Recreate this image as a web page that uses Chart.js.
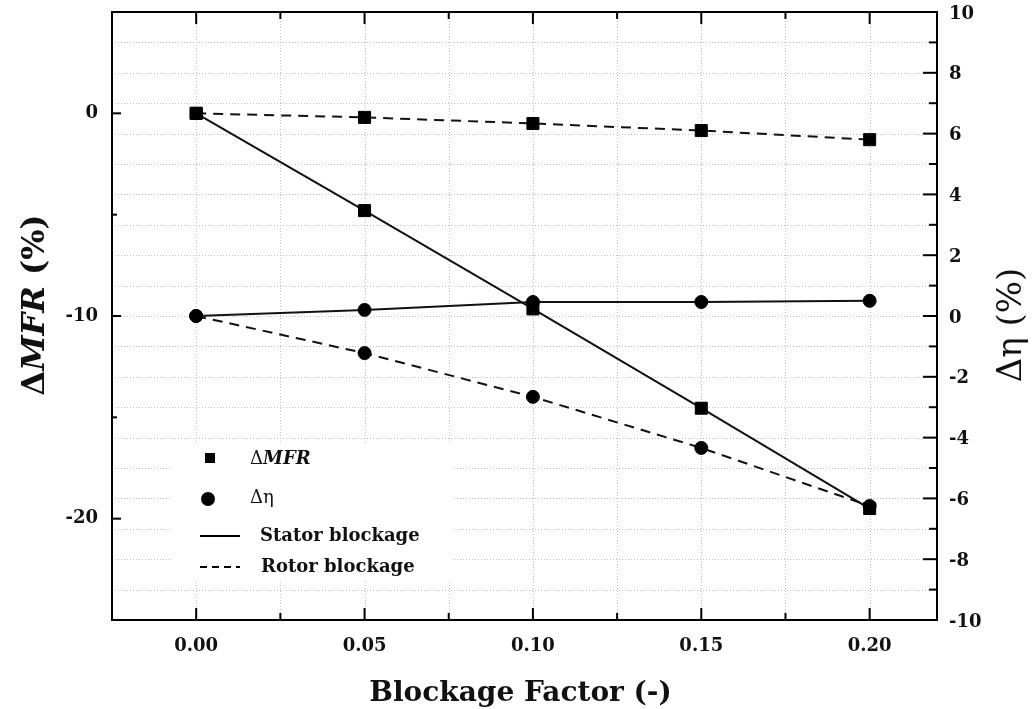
<!DOCTYPE html>
<html>
<head>
<meta charset="utf-8">
<script src="https://cdn.jsdelivr.net/npm/chart.js@4.4.0/dist/chart.umd.min.js"></script>
<style>
  body { margin: 0; background: #fff; }
</style>
</head>
<body>
<canvas id="blockChart" width="1036" height="709"></canvas>
<script>
// 데이터
const blockage = [0.00, 0.05, 0.10, 0.15, 0.20];
const mfrStator = [0, -4.8, -9.65, -14.55, -19.5];
const mfrRotor = [0, -0.2, -0.5, -0.85, -1.3];
const etaStator = [0, 0.2, 0.46, 0.46, 0.5];
const etaRotor = [0, -1.22, -2.66, -4.34, -6.25];

// 눈금 라벨
const xTicks = [0.00, 0.05, 0.10, 0.15, 0.20];
const leftTicks = [0, -10, -20];
const rightTicks = [10, 8, 6, 4, 2, 0, -2, -4, -6, -8, -10];

const serif = "'DejaVu Serif', 'Liberation Serif', serif";
const pts = (ys) => blockage.map((b, i) => ({ x: b, y: ys[i] }));

// 격자, 테두리, 눈금, 제목, 범례
const frame = {
    id: 'frame',
    beforeDatasetsDraw(chart) {
        const { ctx, chartArea: a, scales: { x, y1 } } = chart;
        ctx.save();
        ctx.strokeStyle = '#c0c0c0';
        ctx.lineWidth = 1;
        ctx.setLineDash([1, 2]);
        for (let k = 0; k <= 8; k++) {
            const px = Math.round(x.getPixelForValue(k * 0.025)) + 0.5;
            ctx.beginPath(); ctx.moveTo(px, a.top); ctx.lineTo(px, a.bottom); ctx.stroke();
        }
        for (let v = -9; v <= 9; v++) {
            const py = Math.round(y1.getPixelForValue(v)) + 0.5;
            ctx.beginPath(); ctx.moveTo(a.left, py); ctx.lineTo(a.right, py); ctx.stroke();
        }
        ctx.setLineDash([]);
        // 범례 배경
        ctx.fillStyle = '#fff';
        ctx.fillRect(a.left + 60, a.top + 432, 280, 138);
        ctx.restore();
    },
    afterDraw(chart) {
        const { ctx, chartArea: a, scales: { x, y, y1 } } = chart;
        ctx.save();
        ctx.strokeStyle = '#000';
        ctx.fillStyle = '#111';
        ctx.lineWidth = 2;
        ctx.strokeRect(a.left, a.top, a.right - a.left, a.bottom - a.top);

        const tick = (x0, y0, x1, y1_) => { ctx.beginPath(); ctx.moveTo(x0, y0); ctx.lineTo(x1, y1_); ctx.stroke(); };
        // x 눈금 (위, 아래)
        for (let k = 0; k <= 8; k++) {
            const px = x.getPixelForValue(k * 0.025);
            const len = k % 2 === 0 ? 12 : 7;
            tick(px, a.bottom, px, a.bottom - len);
            tick(px, a.top, px, a.top + len);
        }
        // 왼쪽 눈금
        for (let v = -25; v <= 5; v += 5) {
            const py = y.getPixelForValue(v);
            tick(a.left, py, a.left + (v % 10 === 0 ? 9 : 5), py);
        }
        // 오른쪽 눈금
        for (let v = -9; v <= 9; v++) {
            const py = y1.getPixelForValue(v);
            tick(a.right, py, a.right - (v % 2 === 0 ? 14 : 8), py);
        }

        // 눈금 라벨
        ctx.font = 'bold 18px ' + serif;
        ctx.textAlign = 'center';
        ctx.textBaseline = 'middle';
        xTicks.forEach(v => ctx.fillText(v.toFixed(2), x.getPixelForValue(v), a.bottom + 26));
        ctx.textAlign = 'right';
        leftTicks.forEach(v => ctx.fillText(String(v), a.left - 14, y.getPixelForValue(v)));
        ctx.textAlign = 'left';
        rightTicks.forEach(v => ctx.fillText(String(v), a.right + 12, y1.getPixelForValue(v) + 2));

        // x 축 제목
        ctx.font = 'bold 28px ' + serif;
        ctx.textAlign = 'center';
        ctx.fillText('Blockage Factor (-)', (a.left + a.right) / 2 - 4, a.bottom + 74);

        // 왼쪽 축 제목 (ΔMFR (%))
        const parts = [
            ['Δ', 'bold 32px ' + serif],
            ['MFR', 'italic bold 32px ' + serif],
            [' (%)', 'bold 32px ' + serif]
        ];
        let total = 0;
        parts.forEach(p => { ctx.font = p[1]; total += ctx.measureText(p[0]).width; });
        ctx.translate(36, 305);
        ctx.rotate(-Math.PI / 2);
        ctx.textAlign = 'left';
        let cx = -total / 2;
        parts.forEach(p => { ctx.font = p[1]; ctx.fillText(p[0], cx, 0); cx += ctx.measureText(p[0]).width; });
        ctx.setTransform(1, 0, 0, 1, 0, 0);

        // 오른쪽 축 제목 (Δη (%))
        ctx.font = '34px ' + serif;
        ctx.translate(1012, 325);
        ctx.rotate(-Math.PI / 2);
        ctx.textAlign = 'center';
        ctx.fillText('Δη (%)', 0, 0);
        ctx.setTransform(1, 0, 0, 1, 0, 0);

        // 범례
        const lx = a.left + 98;
        ctx.fillStyle = '#000';
        ctx.fillRect(lx - 5, 453, 10, 10);
        ctx.beginPath(); ctx.arc(lx - 2, 499, 7, 0, Math.PI * 2); ctx.fill();
        ctx.lineWidth = 2;
        tick(lx - 10, 536, lx + 30, 536);
        ctx.setLineDash([7, 5]);
        tick(lx - 10, 567, lx + 30, 567);
        ctx.setLineDash([]);

        ctx.fillStyle = '#111';
        ctx.textAlign = 'left';
        ctx.font = '18px ' + serif;
        ctx.fillText('Δ', lx + 40, 459);
        const dw = ctx.measureText('Δ').width;
        ctx.font = 'italic bold 18px ' + serif;
        ctx.fillText('MFR', lx + 40 + dw, 459);
        ctx.font = '18px ' + serif;
        ctx.fillText('Δη', lx + 40, 498);
        ctx.font = 'bold 18px ' + serif;
        ctx.fillText('Stator blockage', lx + 50, 536);
        ctx.fillText('Rotor blockage', lx + 51, 567);
        ctx.restore();
    }
};

const lineSet = (label, data, axis, style, dashed) => ({
    label: label,
    data: data,
    yAxisID: axis,
    borderColor: '#111',
    backgroundColor: '#000',
    borderWidth: 2,
    borderDash: dashed ? [10, 7] : [],
    pointStyle: style,
    pointRadius: style === 'rect' ? 8.5 : 6.5,
    pointBorderWidth: 1,
    pointBorderColor: '#000',
    fill: false,
    tension: 0
});

const ctx = document.getElementById('blockChart').getContext('2d');
const blockChart = new Chart(ctx, {
    type: 'line',
    data: {
        datasets: [
            lineSet('ΔMFR stator', pts(mfrStator), 'y', 'rect', false),
            lineSet('ΔMFR rotor', pts(mfrRotor), 'y', 'rect', true),
            lineSet('Δη stator', pts(etaStator), 'y1', 'circle', false),
            lineSet('Δη rotor', pts(etaRotor), 'y1', 'circle', true)
        ]
    },
    options: {
        responsive: false,
        animation: false,
        layout: { padding: { left: 112, right: 99, top: 12, bottom: 89 } },
        plugins: { legend: { display: false }, tooltip: { enabled: false } },
        scales: {
            x: { type: 'linear', min: -0.025, max: 0.22, display: false },
            y: { position: 'left', min: -25, max: 5, display: false },
            y1: { position: 'right', min: -10, max: 10, display: false }
        }
    },
    plugins: [frame]
});
</script>
</body>
</html>
